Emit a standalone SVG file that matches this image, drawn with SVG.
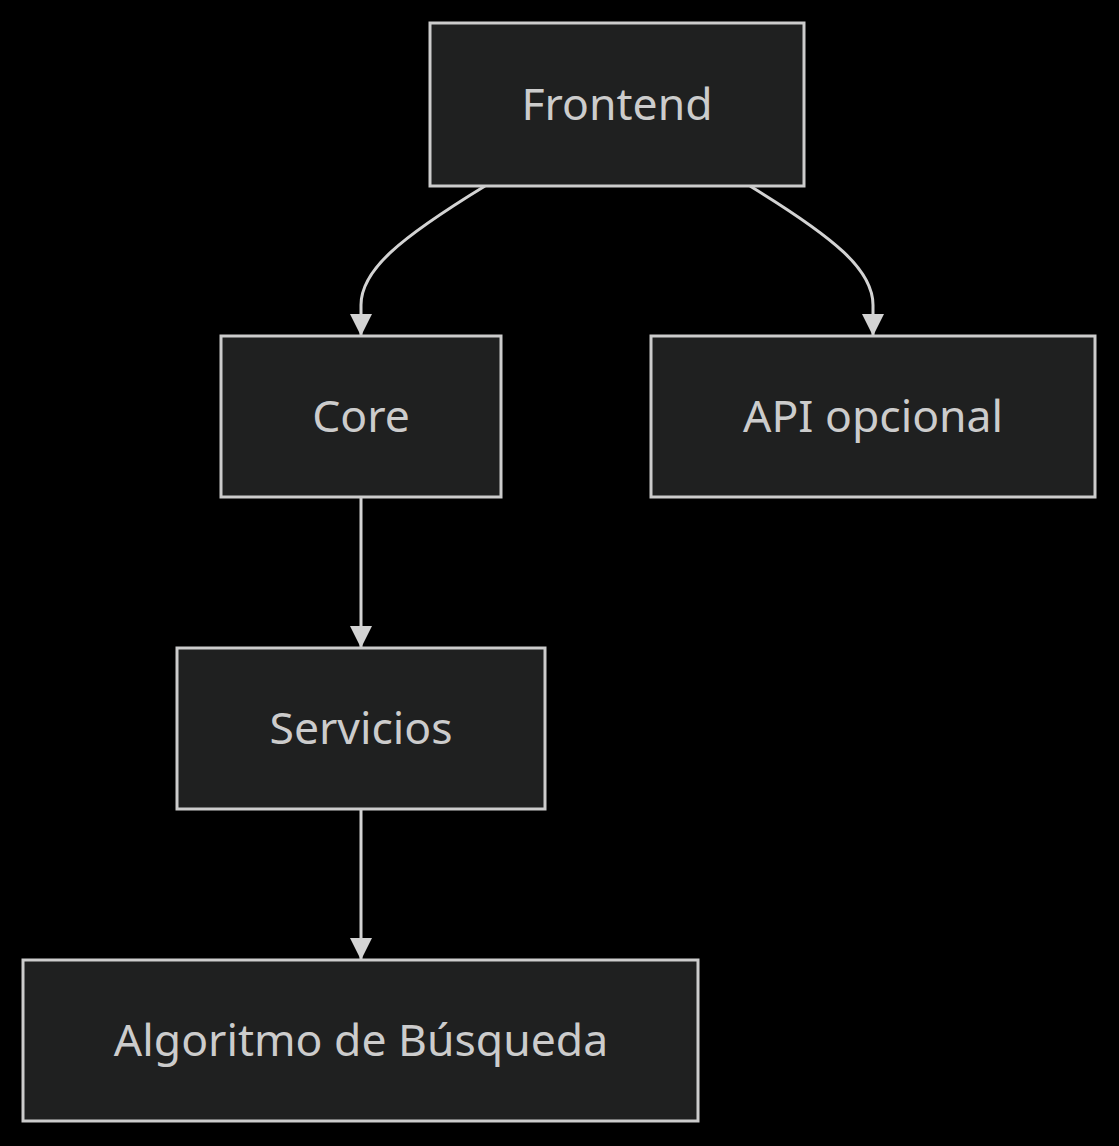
<svg xmlns="http://www.w3.org/2000/svg" width="1119" height="1146" viewBox="0 0 1119 1146">
<style>
.node rect{fill:#1f2020;stroke:#cccccc;stroke-width:3}
.node text{fill:#cccccc;font-family:"Noto Sans","DejaVu Sans",sans-serif;font-size:44.5px;text-anchor:middle}
.edges path{fill:none;stroke:#d3d3d3;stroke-width:3}
</style>
<defs>
<marker id="arrow" viewBox="0 0 12 12" refX="12" refY="6" markerWidth="22" markerHeight="22" markerUnits="userSpaceOnUse" orient="auto">
<path d="M0,0 L12,6 L0,12 z" fill="#d3d3d3"/>
</marker>
</defs>
<rect width="1119" height="1146" fill="#000"/>
<g class="edges">
<path d="M485,186 C400,238 361,270 361,305 L361,336" marker-end="url(#arrow)"/>
<path d="M750,186 C835,238 873,270 873,305 L873,336" marker-end="url(#arrow)"/>
<path d="M361,497 L361,648" marker-end="url(#arrow)"/>
<path d="M361,809 L361,960" marker-end="url(#arrow)"/>
</g>
<g id="frontend" class="node"><rect x="430" y="23" width="374" height="163"/><text x="617" y="120">Frontend</text></g>
<g id="core" class="node"><rect x="221" y="336" width="280" height="161"/><text x="361" y="432">Core</text></g>
<g id="api" class="node"><rect x="651" y="336" width="444" height="161"/><text x="873" y="432">API opcional</text></g>
<g id="servicios" class="node"><rect x="177" y="648" width="368" height="161"/><text x="361" y="744">Servicios</text></g>
<g id="algoritmo" class="node"><rect x="23" y="960" width="675" height="161"/><text x="361" y="1056">Algoritmo de Búsqueda</text></g>
</svg>
